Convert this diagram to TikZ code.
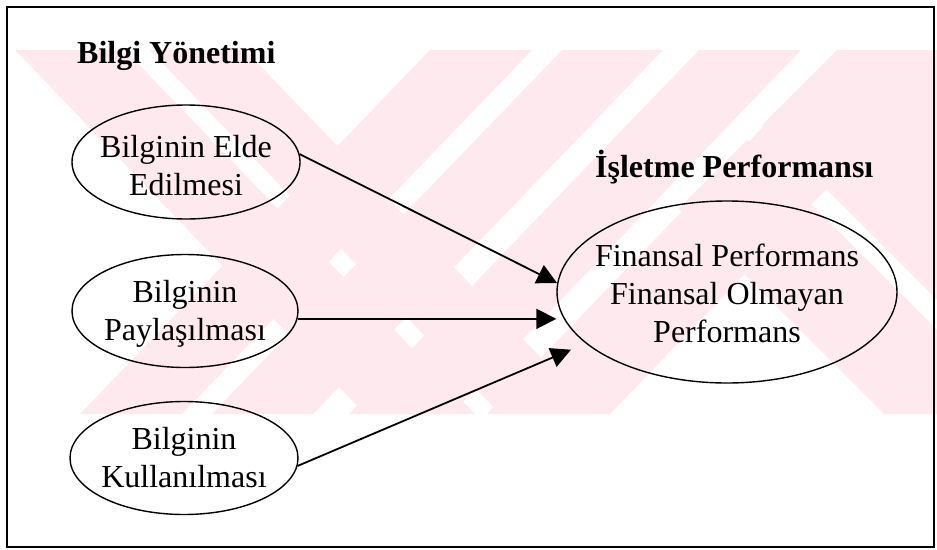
\documentclass[tikz,border=0pt]{standalone}
\usepackage{fontspec}
\setmainfont{Liberation Serif}
\usetikzlibrary{arrows.meta,shapes.geometric}
\definecolor{wmpink}{RGB}{253,233,238}
\begin{document}
\begin{tikzpicture}[x=1pt,y=-1pt,
  every node/.style={font=\fontsize{32}{38}\selectfont, inner sep=0pt},
  bubble/.style={draw, ellipse, line width=1.4pt},
  bubbletext/.style={align=center},
  heading/.style={font=\fontsize{32}{38}\selectfont\bfseries, anchor=base west},
  link/.style={line width=1.8pt, -{Triangle[length=20pt,width=20pt]}},
  wm/.style={fill=wmpink}]
\useasboundingbox (0,0) rectangle (937,549);

% background watermark: crossing diagonal bands
\begin{scope}
  \clip (15,50) rectangle (937,414);
  % rising bands
  \foreach \a/\b in {430/532, 562/663, 699/801, 837/960}
    \fill[wm] (\a,50) -- (\b,50) -- (\b-350,414) -- (\a-350,414) -- cycle;
  % falling bands on the left
  \foreach \a/\b in {15/125, 150/245}
    \fill[wm] (\a,50) -- (\b,50) -- (\b+350,414) -- (\a+350,414) -- cycle;
  % upper right wedge
  \fill[wm] (837,50) -- (1100,50) -- (1100,463) -- (762,125) -- cycle;
  % falling band on the lower right
  \fill[wm] (747,140) -- (1021,414) -- (884,414) -- (678.5,208.5) -- cycle;
\end{scope}

% frame
\draw[line width=1.8pt] (7,7) rectangle (934,547);

% headings
\node[heading] (hbilgi) at (77,63) {Bilgi Yönetimi};
\node[heading] (hisl) at (595,177) {İşletme Performansı};

% knowledge management dimensions
\node[bubble, minimum width=228pt, minimum height=114pt] (e1) at (186,162) {};
\node[bubbletext] (t1) at (186,166) {Bilginin Elde\\Edilmesi};
\node[bubble, minimum width=226pt, minimum height=113pt] (e2) at (185,311) {};
\node[bubbletext] (t2) at (185,314) {Bilginin\\Paylaşılması};
\node[bubble, minimum width=228pt, minimum height=113pt] (e3) at (184,458) {};
\node[bubbletext] (t3) at (184,458) {Bilginin\\Kullanılması};

% business performance
\node[bubble, minimum width=340pt, minimum height=182pt] (big) at (727,292) {};
\node[bubbletext] (tb) at (727,293) {Finansal Performans\\Finansal Olmayan\\Performans};

% relations
\draw[link] (e1.4) -- (big.177);
\draw[link] (e2.-4) -- (e2.-4 -| big.west);
\draw[link, shorten >=16pt] (e3.-4) -- (big.200);
\end{tikzpicture}
\end{document}
